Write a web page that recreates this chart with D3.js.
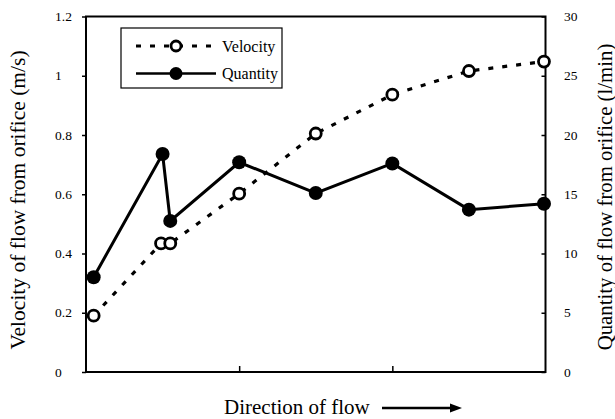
<!DOCTYPE html>
<html>
<head>
<meta charset="utf-8">
<script src="https://cdn.jsdelivr.net/npm/d3@7/dist/d3.min.js"></script>
<style>
  html, body { margin: 0; padding: 0; background: #fff; }
  svg { display: block; }
  text { font-family: "Liberation Serif", "Times New Roman", serif; fill: #000; }
</style>
</head>
<body>
<svg id="chart" width="615" height="419"></svg>
<script>
// ---- data ----
const velocityX = [0.05, 0.49, 0.55, 1.0, 1.5, 2.0, 2.5, 2.99];
const velocity  = [0.19, 0.434, 0.434, 0.602, 0.805, 0.936, 1.016, 1.048];
const quantityX = [0.05, 0.50, 0.55, 1.0, 1.5, 2.0, 2.5, 2.99];
const quantity  = [8.0, 18.4, 12.75, 17.7, 15.1, 17.6, 13.7, 14.2];
const leftTicks  = [0, 0.2, 0.4, 0.6, 0.8, 1, 1.2];
const rightTicks = [0, 5, 10, 15, 20, 25, 30];
const xTicks = [1, 2];
const legendLabels = ["Velocity", "Quantity"];
const leftTitle = "Velocity of flow from orifice (m/s)";
const rightTitle = "Quantity of flow from orifice (l/min)";
const xTitle = "Direction of flow";

// ---- layout ----
const L = 86, R = 545.5, T = 16.5, B = 372;
const svg = d3.select("#chart");
const x = d3.scaleLinear().domain([0, 3]).range([L, R]);
const yL = d3.scaleLinear().domain([0, 1.2]).range([B, T]);
const yR = d3.scaleLinear().domain([0, 30]).range([B, T]);

// frame
svg.append("rect").attr("x", L).attr("y", T).attr("width", R - L).attr("height", B - T)
  .attr("fill", "none").attr("stroke", "#000").attr("stroke-width", 2);

// left axis (ticks outward)
const gl = svg.append("g").attr("transform", `translate(${L},0)`)
  .call(d3.axisLeft(yL).tickValues(leftTicks).tickSize(4).tickFormat(() => ""));
gl.select(".domain").remove();
gl.selectAll("line").attr("stroke-width", 1.5);
svg.selectAll(".ltick").data(leftTicks).join("text").attr("class", "ltick")
  .attr("x", 55).attr("y", d => yL(d)).attr("dy", "0.35em")
  .attr("font-size", 13.5).text(d => d3.format("~g")(d));

// right axis (ticks inward)
const gr = svg.append("g").attr("transform", `translate(${R},0)`)
  .call(d3.axisLeft(yR).tickValues(rightTicks).tickSize(4).tickFormat(() => ""));
gr.select(".domain").remove();
gr.selectAll("line").attr("stroke-width", 1.5);
svg.selectAll(".rtick").data(rightTicks).join("text").attr("class", "rtick")
  .attr("x", 564).attr("y", d => yR(d)).attr("dy", "0.35em")
  .attr("font-size", 13.5).text(d => d);

// bottom axis (ticks inward)
const gb = svg.append("g").attr("transform", `translate(0,${B})`)
  .call(d3.axisTop(x).tickValues(xTicks).tickSize(6).tickFormat(() => ""));
gb.select(".domain").remove();
gb.selectAll("line").attr("stroke-width", 1.5);

// titles
svg.append("text").attr("transform", `translate(18,200) rotate(-90)`)
  .attr("text-anchor", "middle").attr("dominant-baseline", "central")
  .attr("font-size", 21.5).text(leftTitle);
svg.append("text").attr("transform", `translate(604,197) rotate(-90)`)
  .attr("text-anchor", "middle").attr("dominant-baseline", "central")
  .attr("font-size", 20.8).text(rightTitle);
svg.append("text").attr("x", 224).attr("y", 414).attr("font-size", 21).text(xTitle);
// arrow
svg.append("line").attr("x1", 382).attr("y1", 408).attr("x2", 452).attr("y2", 408)
  .attr("stroke", "#000").attr("stroke-width", 2.5);
svg.append("path").attr("d", "M450,403.5 L462,408 L450,412.5 Z").attr("fill", "#000");

// velocity series
const vData = velocityX.map((d, i) => [d, velocity[i]]);
svg.append("path").datum(vData)
  .attr("d", d3.line().x(d => x(d[0])).y(d => yL(d[1])))
  .attr("fill", "none").attr("stroke", "#000").attr("stroke-width", 3.2)
  .attr("stroke-dasharray", "5,9");
// quantity series
const qData = quantityX.map((d, i) => [d, quantity[i]]);
svg.append("path").datum(qData)
  .attr("d", d3.line().x(d => x(d[0])).y(d => yR(d[1])))
  .attr("fill", "none").attr("stroke", "#000").attr("stroke-width", 3);

svg.selectAll(".vpt").data(vData).join("circle").attr("class", "vpt")
  .attr("cx", d => x(d[0])).attr("cy", d => yL(d[1])).attr("r", 5.5)
  .attr("fill", "#fff").attr("stroke", "#000").attr("stroke-width", 2.8);
svg.selectAll(".qpt").data(qData).join("circle").attr("class", "qpt")
  .attr("cx", d => x(d[0])).attr("cy", d => yR(d[1])).attr("r", 7)
  .attr("fill", "#000");

// legend
const lg = svg.append("g");
lg.append("rect").attr("x", 121).attr("y", 28).attr("width", 161).attr("height", 60)
  .attr("fill", "#fff").attr("stroke", "#000").attr("stroke-width", 1.2);
const rowY = [46, 73.5];
lg.append("line").attr("x1", 136).attr("x2", 216).attr("y1", rowY[0]).attr("y2", rowY[0])
  .attr("stroke", "#000").attr("stroke-width", 3.2).attr("stroke-dasharray", "5,9");
lg.append("circle").attr("cx", 176).attr("cy", rowY[0]).attr("r", 5)
  .attr("fill", "#fff").attr("stroke", "#000").attr("stroke-width", 2.8);
lg.append("line").attr("x1", 136).attr("x2", 216).attr("y1", rowY[1]).attr("y2", rowY[1])
  .attr("stroke", "#000").attr("stroke-width", 2.5);
lg.append("circle").attr("cx", 176).attr("cy", rowY[1]).attr("r", 6.5).attr("fill", "#000");
lg.selectAll(".lt").data(legendLabels).join("text").attr("class", "lt")
  .attr("x", 222).attr("y", (d, i) => rowY[i]).attr("dy", "0.35em")
  .attr("font-size", 16).text(d => d);
</script>
</body>
</html>
